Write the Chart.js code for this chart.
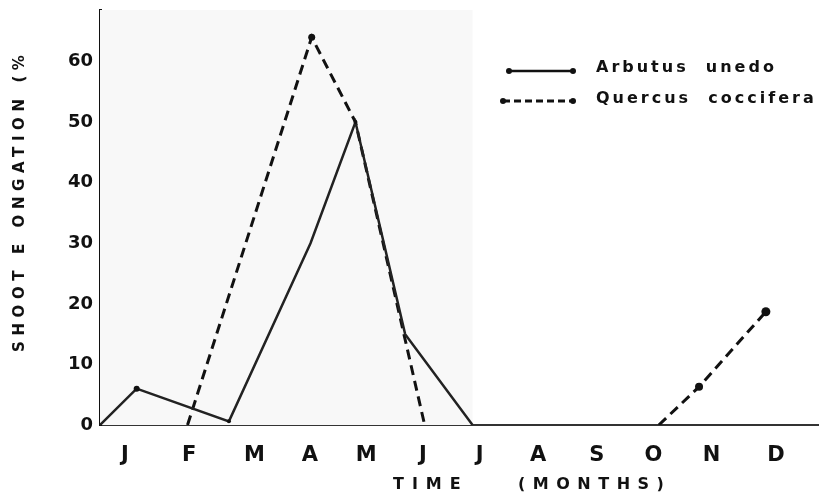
<!DOCTYPE html>
<html>
<head>
<meta charset="utf-8">
<script src="https://cdn.jsdelivr.net/npm/chart.js@4"></script>
<style>
  html, body { margin: 0; padding: 0; background: #fff; }
  #wrap { width: 823px; height: 502px; }
</style>
</head>
<body>
<div id="wrap"><canvas id="shoot" width="823" height="502"></canvas></div>
<script>
// month labels and where they sit on the time axis (months from 1 Jan)
const monthLabels = ["J", "F", "M", "A", "M", "J", "J", "A", "S", "O", "N", "D"];
const monthPos = [0.42, 1.51, 2.61, 3.55, 4.5, 5.46, 6.42, 7.41, 8.4, 9.36, 10.34, 11.43];

// Arbutus unedo (solid)
const arbutusX = [0, 0.62, 2.18, 3.56, 4.32, 5.16, 6.3];
const arbutusY = [0, 6, 0.6, 30, 50, 15, 0];
const arbutusDots = [0, 3, 2, 0, 2, 0, 0];

// Quercus coccifera (dashed)
const quercusX = [1.48, 3.58, 4.32, 5.49, 7.5, 9.45, 10.13, 11.26];
const quercusY = [0, 64, 50, 0, null, 0, 6.3, 18.7];
const quercusDots = [0, 3.5, 0, 0, 0, 0, 4, 4.5];

const yTicks = [0, 10, 20, 30, 40, 50, 60];

const pts = (xs, ys) => xs.map((x, i) => ({ x: x, y: ys[i] }));

const FONT = "'DejaVu Sans', 'Liberation Sans', sans-serif";

// shaded paper area, axis titles and the legend
const paperPlugin = {
  id: 'paper',
  beforeDatasetsDraw(chart) {
    const { ctx, chartArea, scales } = chart;
    ctx.save();
    ctx.fillStyle = '#f8f8f8';
    const xr = scales.x.getPixelForValue(6.3);
    ctx.fillRect(chartArea.left, chartArea.top, xr - chartArea.left, chartArea.bottom - chartArea.top);
    ctx.restore();
  },
  afterDraw(chart) {
    const { ctx } = chart;
    ctx.save();
    ctx.strokeStyle = '#111';
    ctx.fillStyle = '#111';
    ctx.lineWidth = 2.5;
    // solid sample
    ctx.beginPath(); ctx.moveTo(509, 71); ctx.lineTo(573, 71); ctx.stroke();
    ctx.beginPath(); ctx.arc(509, 71, 3, 0, Math.PI * 2); ctx.fill();
    ctx.beginPath(); ctx.arc(573, 71, 3, 0, Math.PI * 2); ctx.fill();
    // dashed sample
    ctx.lineWidth = 3;
    ctx.setLineDash([7, 4]);
    ctx.beginPath(); ctx.moveTo(503, 101); ctx.lineTo(573, 101); ctx.stroke();
    ctx.setLineDash([]);
    ctx.beginPath(); ctx.arc(503, 101, 3, 0, Math.PI * 2); ctx.fill();
    ctx.beginPath(); ctx.arc(573, 101, 3, 0, Math.PI * 2); ctx.fill();

    ctx.textBaseline = 'middle';
    ctx.font = 'bold 16px ' + FONT;
    ctx.letterSpacing = '3px';
    ctx.fillText('Arbutus  unedo', 596, 68);
    ctx.fillText('Quercus  coccifera', 596, 99);

    // x axis title
    ctx.font = 'bold 16px ' + FONT;
    ctx.letterSpacing = '8px';
    ctx.fillText('TIME', 393, 485);
    ctx.letterSpacing = '7.5px';
    ctx.fillText('(MONTHS)', 518, 485);

    // y axis title
    ctx.translate(20, 352);
    ctx.rotate(-Math.PI / 2);
    ctx.font = 'bold 15px ' + FONT;
    ctx.letterSpacing = '5.6px';
    ctx.fillText('SHOOT E ONGATION (%', 0, 0);
    ctx.restore();
  }
};

new Chart(document.getElementById('shoot'), {
  type: 'scatter',
  data: {
    datasets: [
      {
        label: 'Arbutus unedo',
        data: pts(arbutusX, arbutusY),
        showLine: true,
        borderColor: '#222',
        backgroundColor: '#111',
        borderWidth: 2.5,
        pointRadius: arbutusDots,
        pointBorderWidth: 0,
        spanGaps: false
      },
      {
        label: 'Quercus coccifera',
        data: pts(quercusX, quercusY),
        showLine: true,
        borderColor: '#111',
        backgroundColor: '#111',
        borderWidth: 3,
        borderDash: [10, 6],
        pointRadius: quercusDots,
        pointBorderWidth: 0,
        spanGaps: false
      }
    ]
  },
  options: {
    responsive: false,
    animation: false,
    layout: { padding: { top: 10, right: 0, left: 0, bottom: 0 } },
    plugins: { legend: { display: false }, tooltip: { enabled: false } },
    scales: {
      x: {
        type: 'linear',
        min: 0,
        max: 12.15,
        grid: { display: false, drawTicks: false },
        border: { display: true, color: '#333', width: 2 },
        afterBuildTicks(scale) {
          scale.ticks = monthPos.map(v => ({ value: v }));
        },
        afterFit(scale) {
          scale.height = 77;
          scale.paddingLeft = 0;
          scale.paddingRight = 0;
        },
        ticks: {
          autoSkip: false,
          maxRotation: 0,
          padding: 18,
          color: '#111',
          font: { family: FONT, size: 21, weight: 'bold' },
          callback: (v, i) => monthLabels[i]
        }
      },
      y: {
        min: 0,
        max: 68.5,
        grid: { display: false, drawTicks: false },
        border: { display: true, color: '#111', width: 3 },
        afterBuildTicks(scale) {
          scale.ticks = yTicks.map(v => ({ value: v }));
        },
        afterFit(scale) {
          scale.width = 100;
          scale.paddingTop = 0;
          scale.paddingBottom = 0;
        },
        ticks: {
          padding: 7,
          color: '#111',
          font: { family: FONT, size: 18, weight: 'bold' }
        }
      }
    }
  },
  plugins: [paperPlugin]
});
</script>
</body>
</html>
